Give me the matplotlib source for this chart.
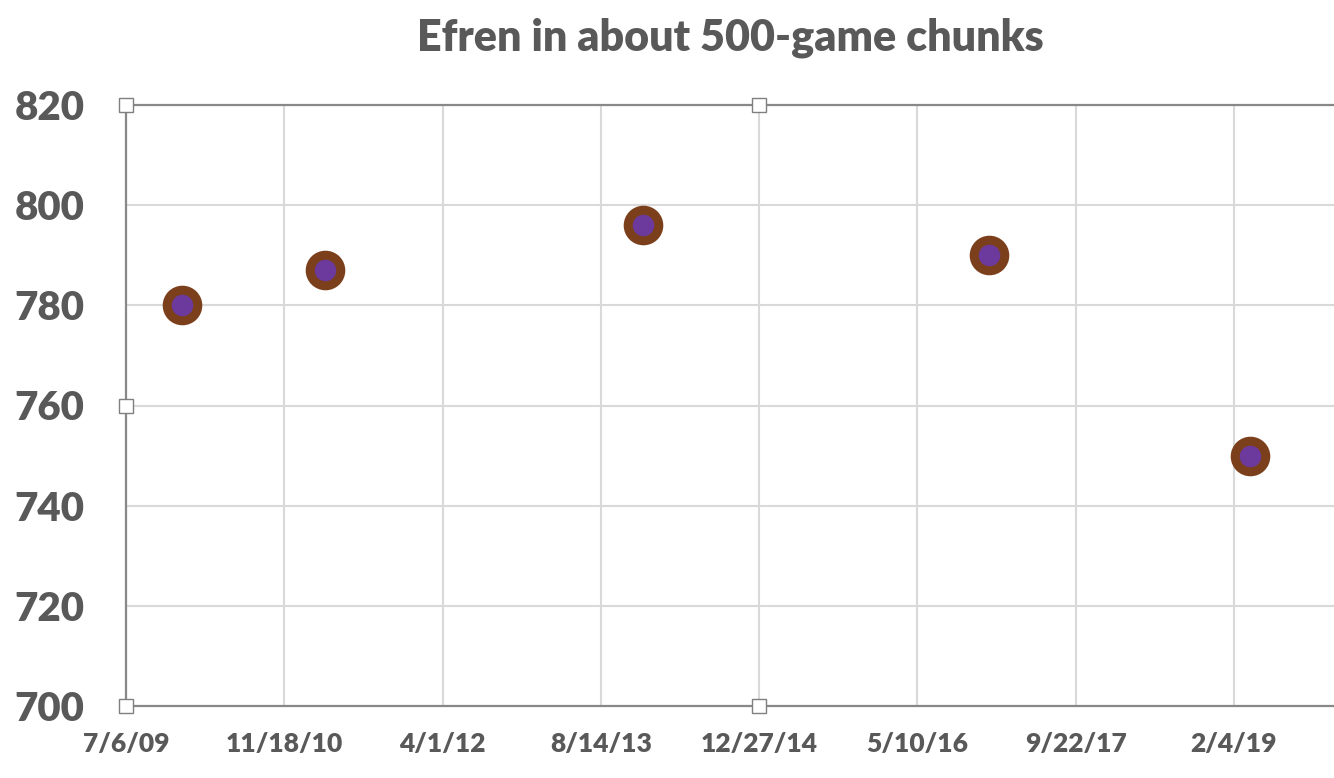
import datetime as dt
import matplotlib
matplotlib.use("Agg")
import matplotlib.pyplot as plt

# Efren rating, one point per ~500 games
chunk_dates = ["2009-12-30", "2011-03-27", "2013-12-24", "2016-12-23", "2019-03-27"]
ratings = [780, 787, 796, 790, 750]

x_tick_labels = ["7/6/09", "11/18/10", "4/1/12", "8/14/13",
                 "12/27/14", "5/10/16", "9/22/17", "2/4/19"]
y_ticks = [700, 720, 740, 760, 780, 800, 820]

GREY_TEXT = "#595959"
plt.rcParams["font.family"] = ["Lato", "DejaVu Sans"]

dates = [dt.datetime.strptime(d, "%Y-%m-%d") for d in chunk_dates]
tick_dates = [dt.datetime.strptime(t, "%m/%d/%y") for t in x_tick_labels]

fig = plt.figure(figsize=(13.34, 7.78), dpi=100)
W, H = 1334, 778
# plot area runs off the right edge of the picture, like the original crop
left, right, top, bottom = 126, 1392, 105, 706
ax = fig.add_axes([left / W, 1 - bottom / H, (right - left) / W, (bottom - top) / H])

ax.plot(dates, ratings, linestyle="none", marker="o", markersize=22,
        markerfacecolor="#6B3A9C", markeredgecolor="#7B3F1C", markeredgewidth=6.5,
        zorder=3, clip_on=False)

x0 = tick_dates[0]
x1 = x0 + dt.timedelta(days=4000)
ax.set_xlim(x0, x1)
ax.set_ylim(700, 820)
ax.set_xticks(tick_dates)
ax.set_xticklabels(x_tick_labels)
ax.set_yticks(y_ticks)

ax.grid(True, color="#d9d9d9", linewidth=1.5)
ax.set_axisbelow(True)
for side in ["left", "bottom", "top"]:
    ax.spines[side].set_color("#888888")
    ax.spines[side].set_linewidth(1.6)
ax.spines["right"].set_visible(False)

ax.tick_params(axis="both", length=0, colors=GREY_TEXT)
ax.tick_params(axis="y", labelsize=29, pad=30)
ax.tick_params(axis="x", labelsize=19, pad=19)
for lbl in ax.get_xticklabels() + ax.get_yticklabels():
    lbl.set_fontweight("heavy")

# Excel selection handles on the plot area
hx = [0, 0, 0, 0.5, 0.5]
hy = [0, 0.5, 1, 1, 0]
ax.plot(hx, hy, linestyle="none", marker="s", markersize=10,
        markerfacecolor="white", markeredgecolor="#7f7f7f", markeredgewidth=1,
        transform=ax.transAxes, clip_on=False, zorder=5)

fig.text(730 / W, 1 - 38 / H, "Efren in about 500-game chunks",
         ha="center", va="center", fontsize=31, fontweight="heavy", color=GREY_TEXT)

fig.savefig("out.png", dpi=100)
